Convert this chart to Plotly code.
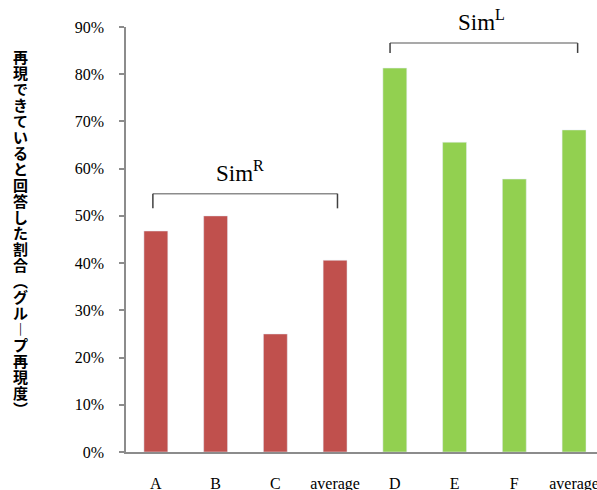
import plotly.graph_objects as go

categories = ["A", "B", "C", "average", "D", "E", "F", "average"]
sim_r_values = [0.468, 0.500, 0.250, 0.406]
sim_l_values = [0.813, 0.656, 0.578, 0.682]
y_ticks = [0, 0.1, 0.2, 0.3, 0.4, 0.5, 0.6, 0.7, 0.8, 0.9]
y_tick_labels = ["0%", "10%", "20%", "30%", "40%", "50%", "60%", "70%", "80%", "90%"]
y_title_chars = list("再現できていると回答した割合") + ["︵"] + list("グル") + ["︱"] + list("プ再現度") + ["︶"]

W, H = 597, 490
L, R, T, B = 126, 0, 27, 38
pw, ph = W - L - R, H - T - B

xpos = list(range(len(categories)))
fig = go.Figure()
fig.add_trace(go.Bar(x=xpos[:4], y=sim_r_values, marker_color="#C0504D", width=0.4, showlegend=False))
fig.add_trace(go.Bar(x=xpos[4:], y=sim_l_values, marker_color="#92D050", width=0.4, showlegend=False))

serif = "Liberation Serif"

shapes = []
def bracket(x0, x1, ytop, ybot):
    shapes.append(dict(type="line", xref="x", yref="y", x0=x0, x1=x1, y0=ytop, y1=ytop,
                       line=dict(color="#8C8C8C", width=1.5)))
    for xx in (x0, x1):
        shapes.append(dict(type="line", xref="x", yref="y", x0=xx, x1=xx, y0=ytop, y1=ybot,
                           line=dict(color="#404040", width=1.5)))

bracket(-0.05, 3.04, 0.547, 0.516)
bracket(3.92, 7.06, 0.866, 0.845)

def py(px):
    return (H - B - px) / ph

annotations = [
    dict(x=1.40, y=py(171), xref="x", yref="paper", text="Sim<sup>R</sup>", showarrow=False,
         font=dict(family=serif, size=23, color="#000"), yanchor="middle"),
    dict(x=5.45, y=py(21), xref="x", yref="paper", text="Sim<sup>L</sup>", showarrow=False,
         font=dict(family=serif, size=23, color="#000"), yanchor="middle"),
]
n = len(y_title_chars)
top_px, bot_px = 48, 417
pitch = (bot_px - top_px) / n
for i, ch in enumerate(y_title_chars):
    cy = top_px + pitch * (i + 0.5)
    annotations.append(dict(x=(20 - L) / pw, y=py(cy), xref="paper", yref="paper",
                            text=ch, showarrow=False, xanchor="center", yanchor="middle",
                            font=dict(family="Noto Sans CJK JP", size=15, color="#000", weight="bold")))

fig.update_layout(
    width=W, height=H, margin=dict(l=L, r=R, t=T, b=B, pad=0, autoexpand=False),
    paper_bgcolor="white", plot_bgcolor="white",
    shapes=shapes, annotations=annotations, bargap=0.6,
    xaxis=dict(range=[-0.5, -0.5 + pw / 59.74], tickvals=xpos, ticktext=categories,
               showgrid=False, zeroline=False, showline=True, linecolor="#8C8C8C", linewidth=1.5,
               ticks="", ticklabelstandoff=16, automargin=False, ticklabeloverflow="allow",
               tickfont=dict(family=serif, size=16, color="#000")),
    yaxis=dict(range=[0, 0.9], tickvals=y_ticks, ticktext=y_tick_labels,
               showgrid=False, zeroline=False, showline=True, linecolor="#8C8C8C", linewidth=1.5,
               ticks="outside", ticklen=5, tickcolor="#8C8C8C", tickwidth=1.5,
               ticklabelstandoff=12, automargin=False,
               tickfont=dict(family=serif, size=16, color="#000")),
)
fig.write_html("out.html", config={"displayModeBar": False},
               post_script="document.body.style.margin='0';document.body.style.overflow='hidden';")
